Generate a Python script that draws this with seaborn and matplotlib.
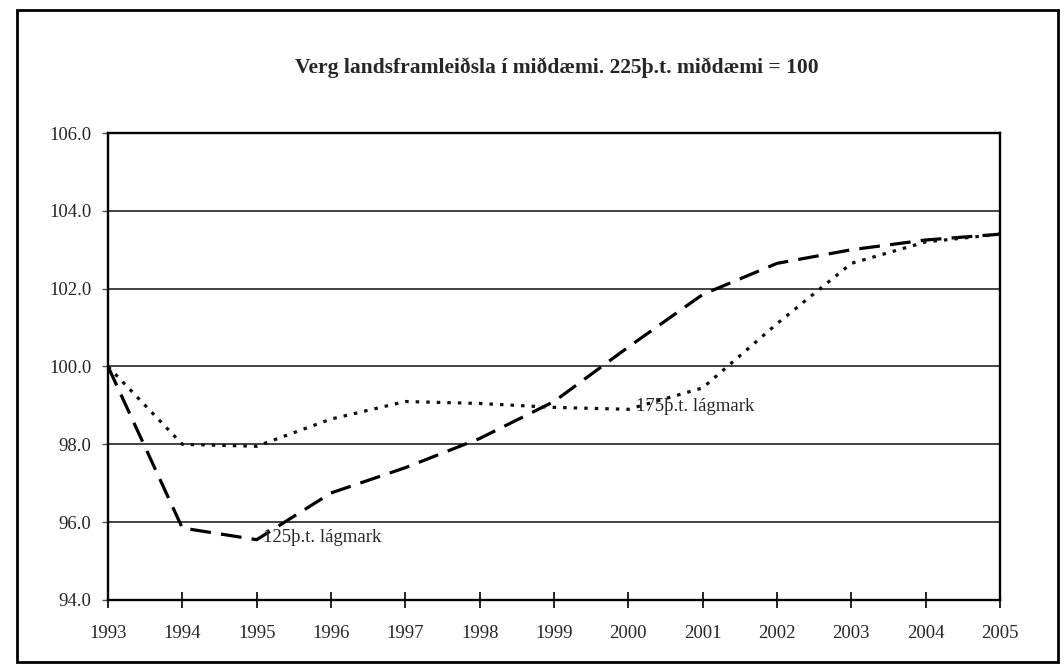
import matplotlib
matplotlib.use("Agg")
import matplotlib.pyplot as plt
import matplotlib.patches as mpatches
import seaborn as sns
import pandas as pd

years = list(range(1993, 2006))
lagmark_125 = [100.0, 95.85, 95.55, 96.75, 97.4, 98.15, 99.1, 100.5, 101.85, 102.65, 103.0, 103.25, 103.4]
lagmark_175 = [100.0, 98.0, 97.95, 98.65, 99.1, 99.05, 98.95, 98.9, 99.45, 101.1, 102.65, 103.2, 103.4]
series_names = ["125þ.t. lágmark", "175þ.t. lágmark"]
title_text = "Verg landsframleiðsla í miðdæmi. 225þ.t. miðdæmi = 100"
y_ticks = [94.0, 96.0, 98.0, 100.0, 102.0, 104.0, 106.0]

df = pd.concat([
    pd.DataFrame({"ár": years, "vísitala": lagmark_125, "röð": series_names[0]}),
    pd.DataFrame({"ár": years, "vísitala": lagmark_175, "röð": series_names[1]}),
])

sns.set_theme(style="white")
plt.rcParams["font.family"] = ["Liberation Serif", "DejaVu Serif"]

fig = plt.figure(figsize=(10.64, 6.72), dpi=100)
fig.patch.set_facecolor("white")

# outer frame around the whole chart
fig.patches.append(mpatches.Rectangle((17 / 1064, 1 - 662 / 672), 1041 / 1064, 652 / 672,
                                      transform=fig.transFigure, fill=False,
                                      edgecolor="black", linewidth=2.0))

ax = fig.add_axes([108 / 1064, 1 - 600 / 672, 892 / 1064, 467 / 672])
ax.set_facecolor("white")

sns.lineplot(data=df, x="ár", y="vísitala", hue="röð", style="röð",
             palette={series_names[0]: "black", series_names[1]: "#111111"},
             dashes={series_names[0]: (6.5, 3.2), series_names[1]: (1.1, 2.2)},
             linewidth=2.3, legend=False, ax=ax)

ax.set_xlim(years[0], years[-1])
ax.set_ylim(y_ticks[0], y_ticks[-1])
ax.set_xticks(years)
ax.set_xticklabels([str(y) for y in years])
ax.set_yticks(y_ticks)
ax.set_yticklabels([f"{v:.1f}" for v in y_ticks])
ax.set_xlabel("")
ax.set_ylabel("")

ax.grid(axis="y", color="#222222", linewidth=1.2)
ax.grid(axis="x", visible=False)
ax.set_axisbelow(True)
for side in ["left", "right", "top", "bottom"]:
    ax.spines[side].set_visible(True)
    ax.spines[side].set_color("black")
    ax.spines[side].set_linewidth(1.7)

ax.tick_params(axis="x", direction="inout", length=12, width=1.2, color="black",
               labelsize=13.5, pad=12, bottom=True)
ax.tick_params(axis="y", direction="out", length=4, width=1.0, color="#555555",
               labelsize=13.5, pad=8, left=True)

ax.text(1995.08, 95.6, series_names[0], fontsize=13.5, ha="left", va="center")
ax.text(2000.1, 98.98, series_names[1], fontsize=13.5, ha="left", va="center")

fig.text(557 / 1064, 1 - 68 / 672, title_text, fontsize=15.5, fontweight="bold",
         ha="center", va="center")

fig.savefig("out.png", dpi=100, facecolor="white")
